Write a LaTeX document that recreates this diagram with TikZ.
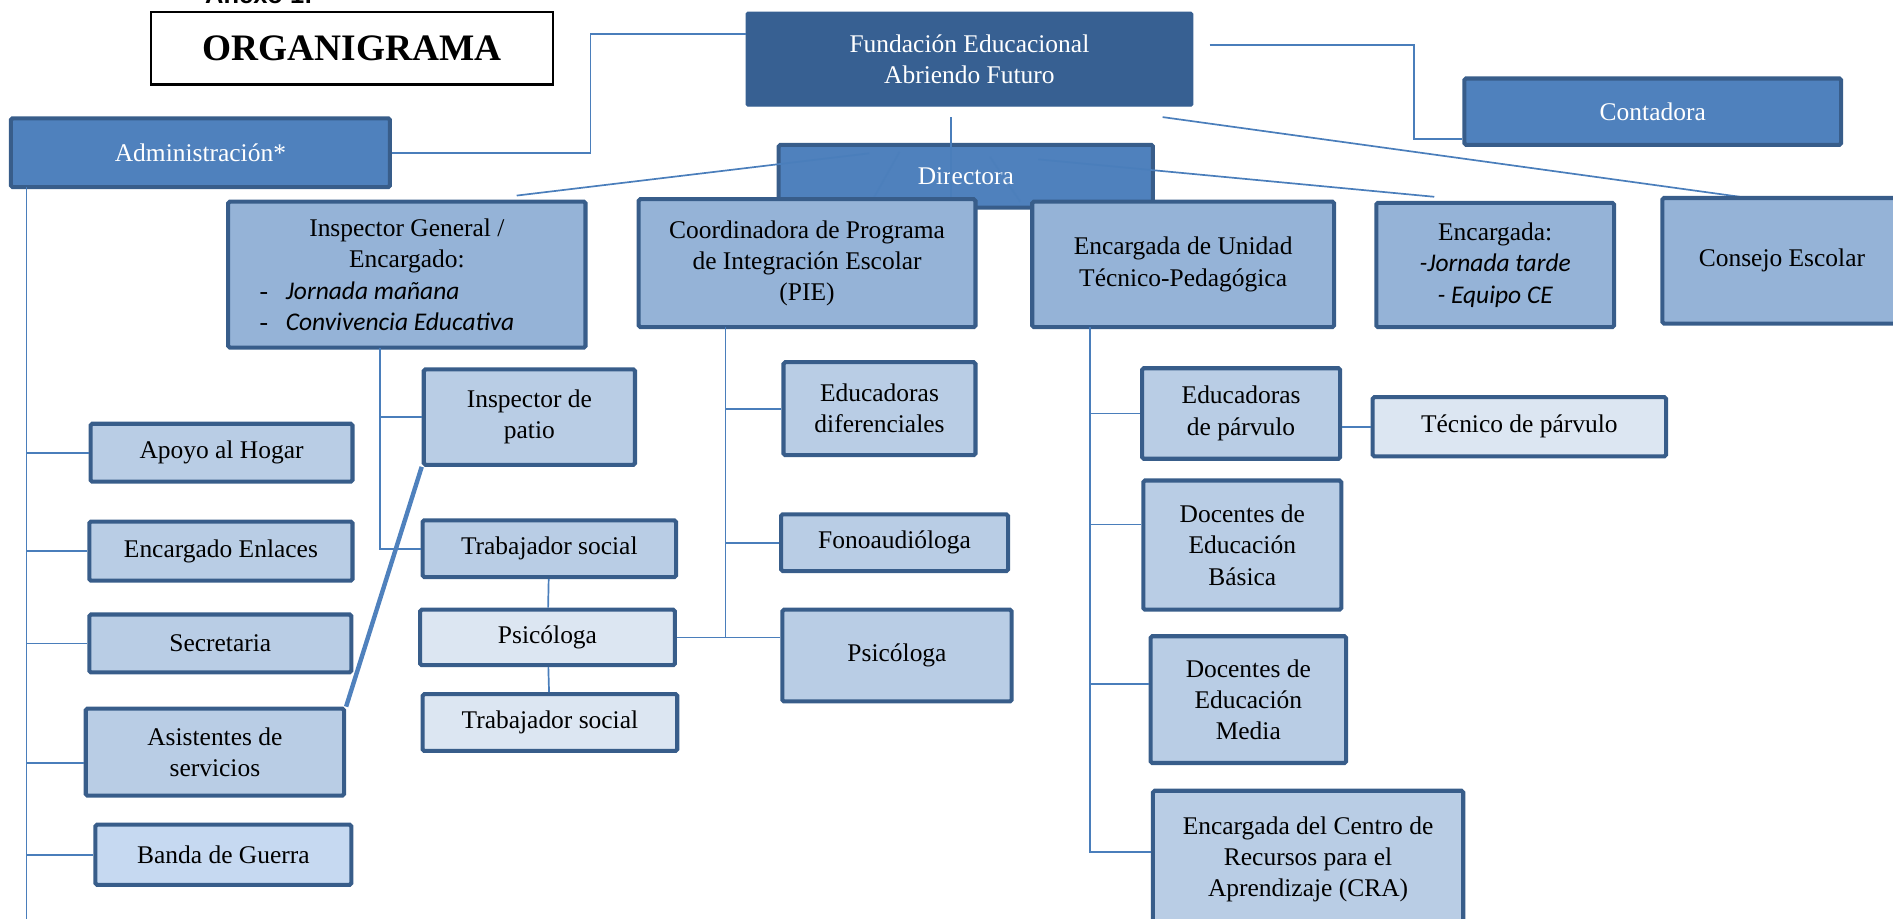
\documentclass[tikz,border=0pt]{standalone}
\usepackage{fontspec}
\setmainfont{Liberation Serif}
\newfontfamily\calibri{Carlito}
\newfontfamily\arialfont{Liberation Sans}
\usepackage{tikz}
\usetikzlibrary{calc}
\definecolor{azulosc}{HTML}{376092}
\definecolor{azulmed}{HTML}{4F81BD}
\definecolor{azulcl}{HTML}{95B3D7}
\definecolor{azulpal}{HTML}{B9CDE5}
\definecolor{azulbl}{HTML}{DCE6F2}
\definecolor{azulbanda}{HTML}{C6D9F1}
\definecolor{borde}{HTML}{385D8A}
\definecolor{linea}{HTML}{4A7EBB}
\tikzset{
  caja/.style={draw=borde, line width=2.4pt, rounded corners=1pt, align=center,
    inner sep=2pt, font=\fontsize{15}{18.4}\selectfont},
  tam/.style 2 args={minimum width=#1*0.025cm, minimum height=#2*0.025cm},
  hilo/.style={draw=linea, line width=1pt},
  gruesa/.style={draw=azulmed, line width=2.6pt},
}

\begin{document}
\begin{tikzpicture}[x=0.025cm, y=-0.025cm]
        \useasboundingbox (0,0) rectangle (1568,761);
        % Title
        \node[anchor=base west, font=\arialfont\bfseries\fontsize{15}{18}\selectfont] (anexo) at (165,3) {Anexo 1:};
        \node[draw=black, line width=1.2pt, tam={333}{60}, font=\bfseries\fontsize{22}{26}\selectfont] (titulo) at (291.5,40) {ORGANIGRAMA};
        % Upper level
        \node[caja, draw=azulosc, line width=0.6pt, fill=azulosc, text=white, tam={370}{78}] (fund) at (803,49) {Fundación Educacional\\Abriendo Futuro};
        \node[caja, fill=azulmed, text=white, tam={314}{57}] (adm) at (166,126.5) {Administración*};
        \node[caja, fill=azulmed, text=white, tam={312}{55}] (cont) at (1369,92.5) {Contadora};
        \node[caja, fill=azulmed, text=white, tam={310}{52}] (dir) at (800,146) {Directora};
        % Define points
        \coordinate (k1) at (489,28);
        \coordinate (k2) at (1002,37);
        \coordinate (k3) at (1171,115);
        \coordinate (f1) at (963,97);
        \coordinate (f2) at (788,97);
        \coordinate (c1) at (1441,163);
        \coordinate (d1) at (720,127);
        \coordinate (d2) at (860,132);
        \coordinate (d3) at (745,126);
        \coordinate (d4) at (820,130);
        \coordinate (d5) at (722,167);
        \coordinate (d6) at (845,167);
        \coordinate (i1) at (428,162);
        \coordinate (e1) at (1188,163);
        % Lines from the top
        \draw[hilo] (adm.east) -| (k1) -- (fund.west |- k1);
        \draw[hilo] (k2) -| (k3) -- (cont.west |- k3);
        \draw[hilo] (f1) -- (c1);
        \draw[hilo] (d1) -- (i1);
        \draw[hilo] (d2) -- (e1);
        \draw[hilo, opacity=0.5] (d3) -- (d5);
        \draw[hilo, opacity=0.5] (d4) -- (d6);
        % Second level
        \node[caja, fill=azulcl, tam={296}{121}] (insg) at (337,227.5) {Inspector General /\\Encargado:\\
          \makebox[6.1cm][l]{-\hspace{0.7em}{\calibri\itshape Jornada mañana}}\\
          \makebox[6.1cm][l]{-\hspace{0.7em}{\calibri\itshape Convivencia Educativa}}};
        \node[caja, fill=azulcl, tam={279}{106}] (coord) at (668.5,218) {Coordinadora de Programa\\de Integración Escolar\\(PIE)};
        \node[caja, fill=azulcl, tam={250}{104}] (utp) at (980,219) {Encargada de Unidad\\Técnico-Pedagógica};
        \node[caja, fill=azulcl, tam={197}{103}] (encd) at (1238.5,219.5) {Encargada:\\{\calibri\itshape -Jornada tarde}\\{\calibri\itshape - Equipo CE}};
        \node[caja, fill=azulcl, tam={198}{104}] (cons) at (1476,216) {Consejo Escolar};
        \draw[hilo] (f2) -- (f2 |- coord.north);
        % Administracion
        \node[caja, fill=azulpal, tam={217}{48}] (apoyo) at (183.5,375) {Apoyo al Hogar};
        \node[caja, fill=azulpal, tam={218}{49}] (enl) at (183,456.5) {Encargado Enlaces};
        \node[caja, fill=azulpal, tam={217}{48}] (secr) at (182.5,533) {Secretaria};
        \node[caja, fill=azulpal, tam={214}{72}] (asis) at (178,623) {Asistentes de\\servicios};
        \node[caja, fill=azulbanda, tam={212}{50}] (banda) at (185,708) {Banda de Guerra};
        % Inspector general
        \node[caja, fill=azulpal, tam={175}{79}] (ipat) at (438.5,345.5) {Inspector de\\patio};
        \node[caja, fill=azulpal, tam={210}{47}] (ts1) at (455,454.5) {Trabajador social};
        \node[caja, fill=azulbl, tam={211}{46}] (psi1) at (453.5,528) {Psicóloga};
        \node[caja, fill=azulbl, tam={211}{47}] (ts2) at (455.5,598.5) {Trabajador social};
        % PIE
        \node[caja, fill=azulpal, tam={159}{77}] (edif) at (728.5,338.5) {Educadoras\\diferenciales};
        \node[caja, fill=azulpal, tam={188}{47}] (fono) at (741,449.5) {Fonoaudióloga};
        \node[caja, fill=azulpal, tam={190}{76}] (psi2) at (743,543) {Psicóloga};
        % UTP
        \node[caja, fill=azulpal, tam={164}{75}] (epar) at (1028,342.5) {Educadoras\\de párvulo};
        \node[caja, fill=azulbl, tam={243}{49}] (tpar) at (1258.5,353.5) {Técnico de párvulo};
        \node[caja, fill=azulpal, tam={164}{107}] (dbas) at (1029,451.5) {Docentes de\\Educación\\Básica};
        \node[caja, fill=azulpal, tam={162}{105}] (dmed) at (1034,579.5) {Docentes de\\Educación\\Media};
        \node[caja, fill=azulpal, tam={257}{114}] (cra) at (1083.5,712) {Encargada del Centro de\\Recursos para el\\Aprendizaje (CRA)};
        % Branches
        \coordinate (a0) at (22,155);
        \coordinate (a1) at (22,761);
        \coordinate (i0) at (315,288);
        \coordinate (p0) at (601,271);
        \coordinate (u0) at (903,271);
        \draw[hilo] (a0) -- (a1);
        \foreach \n/\dy in {apoyo/0,enl/0,secr/0,asis/9,banda/0}
          \draw[hilo] ($(a0 |- \n.west)+(0,\dy)$) -- ($(\n.west)+(0,\dy)$);
        \draw[hilo] (i0) |- (ts1.west);
        \draw[hilo] (i0 |- ipat.west) -- (ipat.west);
        \draw[hilo] (ts1) -- (psi1);
        \draw[hilo] (psi1) -- (ts2);
        \draw[hilo] (p0) -- (p0 |- psi1.east);
        \draw[hilo] (psi1.east) -- (psi2.west |- psi1.east);
        \foreach \n in {edif,fono}
          \draw[hilo] (p0 |- \n.west) -- (\n.west);
        \draw[hilo] (u0) |- ($(cra.west)+(0,-6)$);
        \foreach \n/\dy in {epar/0,dbas/-17,dmed/-13}
          \draw[hilo] ($(u0 |- \n.west)+(0,\dy)$) -- ($(\n.west)+(0,\dy)$);
        \draw[hilo] (tpar.west) -- (tpar.west -| epar.east);
        \draw[gruesa] (ipat.south west) -- (asis.north east);
      \end{tikzpicture}
\end{document}
